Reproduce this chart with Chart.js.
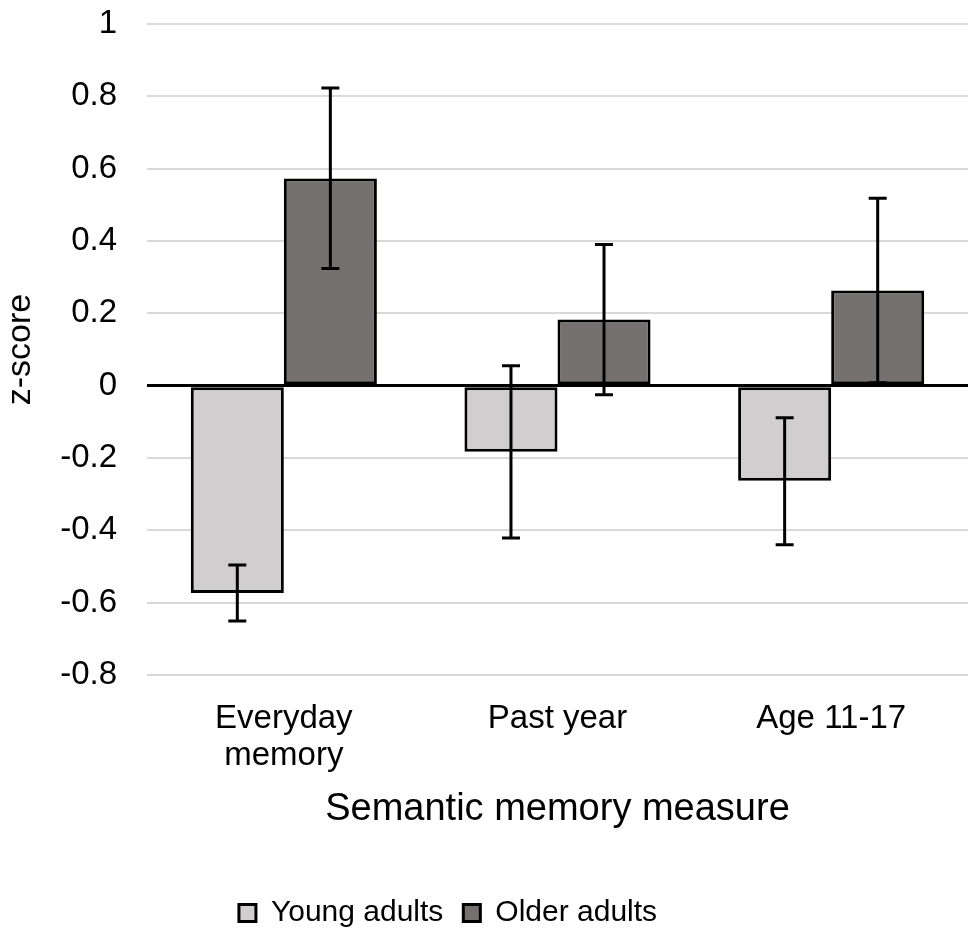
<!DOCTYPE html>
<html>
<head>
<meta charset="utf-8">
<script src="https://cdn.jsdelivr.net/npm/chart.js@4"></script>
<style>
  html, body { margin: 0; padding: 0; background: #fff; }
  #wrap { width: 968px; height: 928px; }
</style>
</head>
<body>
<div id="wrap"><canvas id="chart"></canvas></div>
<script>
    // values
    const categories = [['Everyday', 'memory'], 'Past year', 'Age 11-17'];
    const youngValues = [-0.573, -0.183, -0.263];
    const olderValues = [0.573, 0.183, 0.263];
    const youngErrLow = [-0.651, -0.421, -0.440];
    const youngErrHigh = [-0.496, 0.055, -0.089];
    const olderErrLow = [0.324, -0.025, 0.008];
    const olderErrHigh = [0.823, 0.390, 0.518];
    const yTicks = [-0.8, -0.6, -0.4, -0.2, 0, 0.2, 0.4, 0.6, 0.8, 1];

    const errorBars = [
      { low: youngErrLow, high: youngErrHigh },
      { low: olderErrLow, high: olderErrHigh }
    ];

    // draw error bars on top of the bars
    const errorBarPlugin = {
      id: 'errorBars',
      afterDatasetsDraw(chart) {
        const ctx = chart.ctx;
        const yScale = chart.scales.y;
        ctx.save();
        ctx.strokeStyle = '#000';
        ctx.lineWidth = 3;
        errorBars.forEach((eb, d) => {
          const meta = chart.getDatasetMeta(d);
          meta.data.forEach((bar, i) => {
            const yLo = yScale.getPixelForValue(eb.low[i]);
            const yHi = yScale.getPixelForValue(eb.high[i]);
            const cap = 9;
            ctx.beginPath();
            ctx.moveTo(bar.x, yLo);
            ctx.lineTo(bar.x, yHi);
            ctx.moveTo(bar.x - cap, yLo);
            ctx.lineTo(bar.x + cap, yLo);
            ctx.moveTo(bar.x - cap, yHi);
            ctx.lineTo(bar.x + cap, yHi);
            ctx.stroke();
          });
        });
        ctx.restore();
      }
    };

    // nudge the legend a bit lower and to the left, like the original
    const legendShift = {
      id: 'legendShift',
      afterLayout(chart) {
        const lg = chart.legend;
        if (!lg) return;
        const dx = -36, dy = 10;
        lg.left += dx; lg.right += dx;
        lg.top += dy; lg.bottom += dy;
      }
    };

    const fontFamily = '"Liberation Sans", Arial, sans-serif';

    new Chart(document.getElementById('chart'), {
      type: 'bar',
      data: {
        labels: categories,
        datasets: [
          {
            label: 'Young adults',
            data: youngValues,
            backgroundColor: '#d0cece',
            borderColor: '#000',
            borderWidth: 3,
            borderSkipped: false
          },
          {
            label: 'Older adults',
            data: olderValues,
            backgroundColor: '#767171',
            borderColor: '#000',
            borderWidth: 3,
            borderSkipped: false
          }
        ]
      },
      plugins: [errorBarPlugin, legendShift],
      options: {
        responsive: true,
        maintainAspectRatio: false,
        animation: false,
        layout: { padding: { top: 24, left: 0, right: 0, bottom: 0 } },
        datasets: {
          bar: { categoryPercentage: 0.68, barPercentage: 1 }
        },
        scales: {
          x: {
            grid: { display: false },
            border: { display: false },
            ticks: {
              color: '#000',
              padding: 17,
              font: { family: fontFamily, size: 33, lineHeight: 1.12 }
            },
            title: {
              display: true,
              text: 'Semantic memory measure',
              color: '#000',
              font: { family: fontFamily, size: 38 },
              padding: { top: 0, bottom: 36 }
            },
            afterFit(scale) { scale.height = 193; }
          },
          y: {
            min: -0.8,
            max: 1,
            afterBuildTicks(scale) {
              scale.ticks = yTicks.map(v => ({ value: v }));
            },
            grid: {
              drawTicks: true,
              tickLength: 30,
              tickColor: 'rgba(0,0,0,0)',
              lineWidth: c => Math.abs(c.tick.value) < 1e-9 ? 3 : 2,
              color: c => Math.abs(c.tick.value) < 1e-9 ? '#000' : '#d9d9d9'
            },
            border: { display: false },
            ticks: {
              color: '#000',
              padding: 0,
              font: { family: fontFamily, size: 33 },
              callback: v => String(Number(v.toFixed(1)))
            },
            title: {
              display: true,
              text: 'z-score',
              color: '#000',
              font: { family: fontFamily, size: 34 },
              padding: { top: 0, bottom: 0 }
            },
            afterFit(scale) { scale.width = 147; }
          }
        },
        plugins: {
          legend: {
            position: 'bottom',
            labels: {
              color: '#000',
              boxWidth: 17,
              boxHeight: 17,
              padding: 20,
              font: { family: fontFamily, size: 30 }
            }
          },
          tooltip: { enabled: false }
        }
      }
    });
</script>
</body>
</html>
